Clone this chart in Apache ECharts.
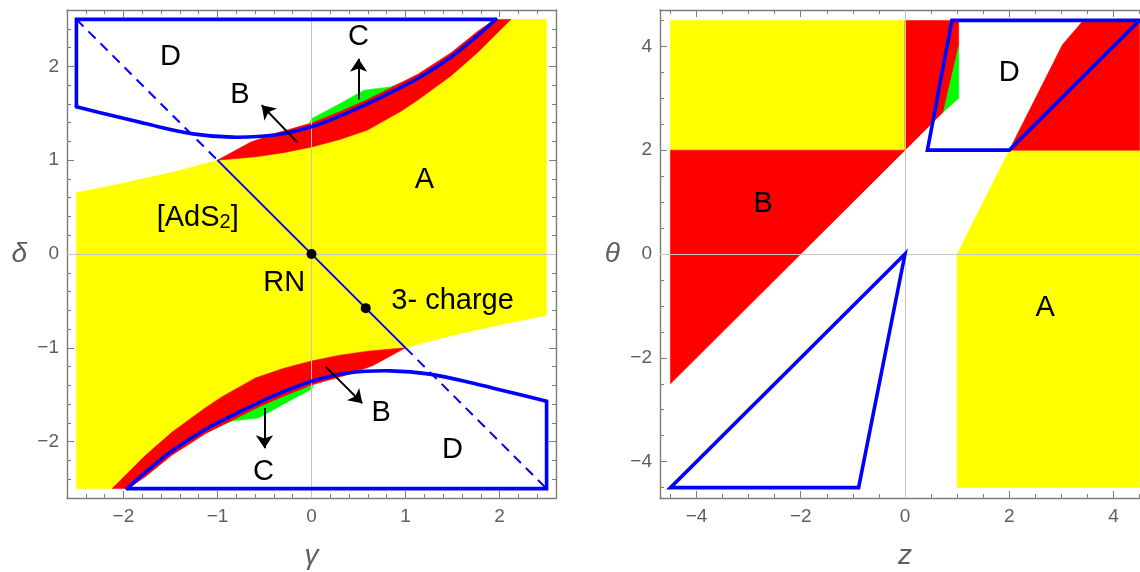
<!DOCTYPE html>
<html>
<head>
<meta charset="utf-8">
<script src="https://cdn.jsdelivr.net/npm/echarts@6/dist/echarts.min.js"></script>
<style>
html, body { margin: 0; padding: 0; background: #fff; }
#main { width: 1140px; height: 572px; }
</style>
</head>
<body>
<div id="main"></div>
<script>
// ---------- ticks ----------
const leftMajor = [-2, -1, 0, 1, 2];
const leftMinor = [-2.4, -2.2, -1.8, -1.6, -1.4, -1.2, -0.8, -0.6, -0.4, -0.2,
                   0.2, 0.4, 0.6, 0.8, 1.2, 1.4, 1.6, 1.8, 2.2, 2.4];
const rightMajor = [-4, -2, 0, 2, 4];
const rightMinor = [-4.5, -3.5, -3, -2.5, -1.5, -1, -0.5, 0.5, 1, 1.5, 2.5, 3, 3.5, 4.5];

// ---------- left panel (gamma, delta) ----------
const regionA = [
  [-2.5, 0.652], [-2.0, 0.755], [-1.5, 0.865], [-1.25, 0.93], [-1.0, 1.0],
  [-0.6, 1.035], [-0.3, 1.08], [0, 1.14], [0.3, 1.22], [0.595, 1.32], [0.95, 1.52],
  [1.13, 1.64], [1.485, 1.90], [1.77, 2.15], [2.11, 2.5],
  [2.5, 2.5], [2.5, -0.652],
  [2.0, -0.755], [1.5, -0.865], [1.25, -0.93], [1.0, -1.0],
  [0.6, -1.035], [0.3, -1.08], [0, -1.14], [-0.3, -1.22], [-0.595, -1.32], [-0.95, -1.52],
  [-1.13, -1.64], [-1.485, -1.90], [-1.77, -2.15], [-2.11, -2.5],
  [-2.5, -2.5]
];
const regionBUp = [
  [-1.0, 1.0], [-0.65, 1.19], [-0.37, 1.29], [0, 1.395], [0.3, 1.515], [0.595, 1.645],
  [0.85, 1.775], [1.13, 1.915], [1.485, 2.145], [1.77, 2.375], [1.95, 2.5], [2.12, 2.5],
  [1.77, 2.15], [1.485, 1.90], [1.13, 1.64], [0.95, 1.52], [0.595, 1.32], [0.3, 1.22],
  [0, 1.14], [-0.3, 1.08], [-0.6, 1.035]
];
const regionBDown = [
  [1.0, -1.0], [0.65, -1.19], [0.37, -1.29], [0, -1.395], [-0.3, -1.515], [-0.595, -1.645],
  [-0.85, -1.775], [-1.13, -1.915], [-1.485, -2.145], [-1.77, -2.375], [-1.95, -2.5], [-2.12, -2.5],
  [-1.77, -2.15], [-1.485, -1.90], [-1.13, -1.64], [-0.95, -1.52], [-0.595, -1.32], [-0.3, -1.22],
  [0, -1.14], [0.3, -1.08], [0.6, -1.035]
];
const regionCUp = [
  [-0.02, 1.40], [0, 1.44], [0.3, 1.60], [0.56, 1.745], [0.84, 1.78], [1.1, 1.88],
  [1.0, 1.80], [0.6, 1.60], [0.2, 1.45]
];
const regionCDown = [
  [0.02, -1.40], [0, -1.44], [-0.3, -1.60], [-0.56, -1.745], [-0.84, -1.78], [-1.1, -1.88],
  [-1.0, -1.80], [-0.6, -1.60], [-0.2, -1.45]
];
// first two points are the straight corners, the rest is the curved edge
const outlineDUp = [
  [-2.5, 2.5], [1.96, 2.5], [1.77, 2.33], [1.485, 2.10], [1.13, 1.87], [0.85, 1.725],
  [0.595, 1.60], [0.3, 1.47], [0, 1.355], [-0.37, 1.27], [-0.84, 1.245], [-1.26, 1.28],
  [-1.77, 1.39], [-2.1, 1.47], [-2.5, 1.57]
];
const outlineDDown = [
  [2.5, -2.5], [-1.96, -2.5], [-1.77, -2.33], [-1.485, -2.10], [-1.13, -1.87], [-0.85, -1.725],
  [-0.595, -1.60], [-0.3, -1.47], [0, -1.355], [0.37, -1.27], [0.84, -1.245], [1.26, -1.28],
  [1.77, -1.39], [2.1, -1.47], [2.5, -1.57]
];
const rnDashUp = [[-2.5, 2.5], [-1, 1]];
const rnSolid = [[-1, 1], [1, -1]];
const rnDashDown = [[1, -1], [2.5, -2.5]];
const specialPoints = [[0, 0], [0.577, -0.577]];
const arrowsLeft = [
  [[-0.15, 1.19], [-0.53, 1.585]],
  [[0.5, 1.645], [0.5, 2.08]],
  [[0.15, -1.2], [0.54, -1.59]],
  [[-0.5, -1.64], [-0.5, -2.07]]
];
const leftLabelText = ['D', 'C', 'B', 'A', '[AdS{s|2}]', 'RN', '3- charge', 'B', 'C', 'D'];
const leftLabelPos = [[-1.5, 2.1], [0.5, 2.31], [-0.76, 1.69], [1.2, 0.79], [-1.21, 0.38],
                      [-0.29, -0.31], [1.5, -0.5], [0.74, -1.69], [-0.51, -2.32], [1.5, -2.09]];

// ---------- right panel (z, theta) ----------
const yellowTopLeft = [[-4.5, 2], [0, 2], [0, 4.5], [-4.5, 4.5]];
const redLeft = [[-4.5, 2], [0, 2], [-4.5, -2.5]];
const redMid = [[0, 2], [0, 4.5], [1.03, 4.5], [1.03, 4.0], [0.74, 2.74]];
const greenMid = [[1.03, 4.0], [1.03, 3.0], [0.74, 2.74]];
const redRight = [[3.42, 4.5], [3.02, 4.03], [2, 2], [4.5, 2], [4.5, 4.5]];
const yellowRight = [[2, 2], [4.5, 2], [4.5, -4.5], [1, -4.5], [1, 0]];
const outlineDRight = [[0.43, 2], [2, 2], [4.5, 4.5], [0.9, 4.5]];
const outlineLowLeft = [[0, 0], [-4.5, -4.5], [-0.89, -4.5]];
const rightLabelText = ['D', 'B', 'A'];
const rightLabelPos = [[2.0, 3.49], [-2.72, 0.97], [2.69, -1.04]];

// ---------- styling ----------
const FONT = '"Liberation Sans", Arial, sans-serif';
const FRAME = '#7c7c7c';
const TICKTXT = '#5e5e5e';
const YELLOW = '#ffff00', RED = '#ff0000', GREEN = '#00ff00', BLUE = '#0000ff';

function fmt(v) { return (v < 0 ? '\u2212' : '') + Math.abs(v); }

function frameAxes(grid, dim, range, majors, minors, name, nameGap) {
  const isX = dim === 'x';
  const sides = isX ? ['bottom', 'top'] : ['left', 'right'];
  const axes = [];
  sides.forEach(function (pos, k) {
    axes.push({
      type: 'value', gridIndex: grid, min: range[0], max: range[1], position: pos,
      splitLine: { show: false },
      axisLine: { show: true, onZero: false, lineStyle: { color: FRAME, width: 1.4 } },
      axisTick: { show: true, inside: true, length: 7, customValues: majors, lineStyle: { color: FRAME, width: 1 } },
      axisLabel: { show: k === 0, customValues: majors, margin: isX ? 9 : 8, color: TICKTXT,
                   fontSize: 19, fontFamily: FONT, formatter: fmt },
      name: k === 0 ? name : '', nameLocation: 'middle', nameGap: nameGap, nameRotate: 0,
      nameTextStyle: { color: TICKTXT, fontSize: 28, fontStyle: 'italic', fontFamily: FONT }
    });
  });
  sides.forEach(function (pos) {
    axes.push({
      type: 'value', gridIndex: grid, min: range[0], max: range[1], position: pos,
      splitLine: { show: false },
      axisLine: { show: false, onZero: false },
      axisTick: { show: true, inside: true, length: 4, customValues: minors, lineStyle: { color: FRAME, width: 1 } },
      axisLabel: { show: false }
    });
  });
  return axes;
}

function fill(pts, ax, color) {
  return {
    type: 'custom', xAxisIndex: ax, yAxisIndex: ax, silent: true, data: pts, z: 1,
    renderItem: function (params, api) {
      if (params.dataIndex !== 0) return null;
      return { type: 'polygon', shape: { points: pts.map(function (p) { return api.coord(p); }) },
               style: { fill: color, stroke: color, lineWidth: 0.6 } };
    }
  };
}
// nStraight: how many leading points are joined by straight edges; the rest is a smooth curve
function outline(pts, ax, nStraight) {
  return {
    type: 'custom', xAxisIndex: ax, yAxisIndex: ax, silent: true, data: pts, z: 3,
    renderItem: function (params, api) {
      if (params.dataIndex !== 0) return null;
      const px = pts.map(function (p) { return api.coord(p); });
      const st = { fill: 'none', stroke: BLUE, lineWidth: 3.6, lineJoin: 'miter', lineCap: 'round' };
      if (!nStraight) return { type: 'polygon', shape: { points: px }, style: st };
      const straight = [px[px.length - 1]].concat(px.slice(0, nStraight));
      const curve = px.slice(nStraight - 1);
      return { type: 'group', children: [
        { type: 'polyline', shape: { points: straight }, style: st },
        { type: 'polyline', shape: { points: curve, smooth: 0.35 }, style: st }
      ] };
    }
  };
}
function line(pts, ax, dash) {
  return {
    type: 'line', xAxisIndex: ax, yAxisIndex: ax, data: pts, showSymbol: false, silent: true, z: 2,
    lineStyle: { color: BLUE, width: 2, type: dash ? [10, 7] : 'solid' }
  };
}
function zeroLines(ax) {
  return {
    type: 'line', xAxisIndex: ax, yAxisIndex: ax, data: [], silent: true, z: 1,
    markLine: { silent: true, symbol: 'none', animation: false, z: 1.5, label: { show: false },
      lineStyle: { color: '#c4c4c4', width: 1, type: 'solid' },
      data: [{ xAxis: 0 }, { yAxis: 0 }] }
  };
}
function labels(pos, texts, ax) {
  return {
    type: 'custom', xAxisIndex: ax, yAxisIndex: ax, silent: true, data: pos, z: 6,
    renderItem: function (params, api) {
      const p = api.coord([api.value(0), api.value(1)]);
      return { type: 'text', x: p[0], y: p[1],
        style: { text: texts[params.dataIndex], fill: '#000', font: '29px ' + FONT,
                 align: 'center', verticalAlign: 'middle',
                 rich: { s: { fontSize: 20, fontFamily: FONT, fill: '#000', verticalAlign: 'bottom' } } } };
    }
  };
}

const chart = echarts.init(document.getElementById('main'), null, { renderer: 'canvas' });
chart.setOption({
  animation: false,
  textStyle: { fontFamily: FONT },
  grid: [
    { left: 67, top: 10, width: 489, height: 488, outerBoundsMode: 'none', containLabel: false },
    { left: 660, top: 10, width: 490, height: 488, outerBoundsMode: 'none', containLabel: false }
  ],
  xAxis: frameAxes(0, 'x', [-2.6, 2.6], leftMajor, leftMinor, '\u03b3', 44)
    .concat(frameAxes(1, 'x', [-4.7, 4.7], rightMajor, rightMinor, 'z', 44)),
  yAxis: frameAxes(0, 'y', [-2.6, 2.6], leftMajor, leftMinor, '\u03b4', 40)
    .concat(frameAxes(1, 'y', [-4.7, 4.7], rightMajor, rightMinor, '\u03b8', 40)),
  series: [
    // left panel
    fill(regionA, 0, YELLOW),
    fill(regionCUp, 0, GREEN),
    fill(regionCDown, 0, GREEN),
    fill(regionBUp, 0, RED),
    fill(regionBDown, 0, RED),
    zeroLines(0),
    line(rnDashUp, 0, true),
    line(rnSolid, 0, false),
    line(rnDashDown, 0, true),
    outline(outlineDUp, 0, 2),
    outline(outlineDDown, 0, 2),
    {
      type: 'lines', coordinateSystem: 'cartesian2d', xAxisIndex: 0, yAxisIndex: 0, silent: true, z: 4,
      symbol: ['none', 'arrow'], symbolSize: 13,
      lineStyle: { color: '#000', width: 2, opacity: 1 },
      data: arrowsLeft.map(function (a) { return { coords: a }; })
    },
    {
      type: 'scatter', xAxisIndex: 0, yAxisIndex: 0, silent: true, data: specialPoints, z: 5,
      symbolSize: 10, itemStyle: { color: '#000', opacity: 1, borderWidth: 0 }
    },
    labels(leftLabelPos, leftLabelText, 0),
    // right panel
    fill(yellowTopLeft, 4, YELLOW),
    fill(yellowRight, 4, YELLOW),
    fill(redLeft, 4, RED),
    fill(redMid, 4, RED),
    fill(greenMid, 4, GREEN),
    fill(redRight, 4, RED),
    zeroLines(4),
    outline(outlineDRight, 4, 0),
    outline(outlineLowLeft, 4, 0),
    labels(rightLabelPos, rightLabelText, 4)
  ]
});
</script>
</body>
</html>
